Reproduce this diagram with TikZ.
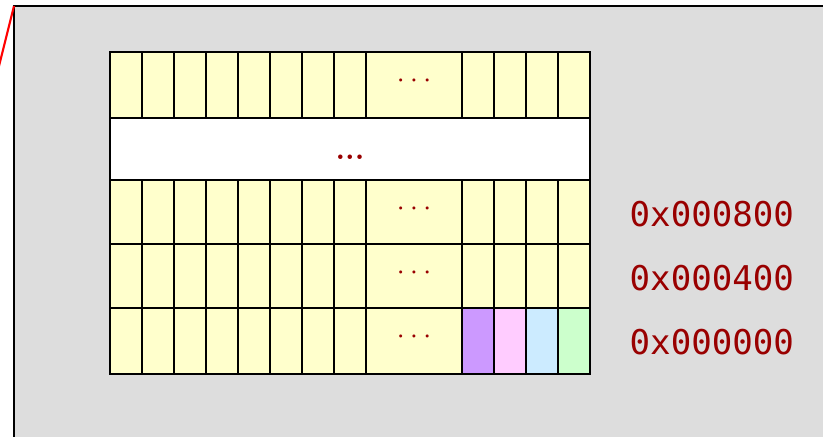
\documentclass[tikz,border=0pt]{standalone}
\usepackage{fontspec}
\usepackage{xcolor}
\usepackage{tikz}
\newfontfamily\addrfont{DejaVu Sans Mono}
\definecolor{MemGray}{HTML}{DDDDDD}
\definecolor{MemYellow}{HTML}{FFFFCC}
\definecolor{MemPurple}{HTML}{CC99FF}
\definecolor{MemPink}{HTML}{FFCCFF}
\definecolor{MemBlue}{HTML}{CCEBFF}
\definecolor{MemGreen}{HTML}{CCFFCC}
\definecolor{MemRed}{HTML}{990000}

\begin{document}
\begin{tikzpicture}[x=0.01cm, y=-0.01cm,
    cell/.style={draw=black, line width=0.75pt, fill=MemYellow},
    addr/.style={text=MemRed, inner sep=0pt, anchor=west, font=\addrfont\fontsize{9.7}{12}\selectfont},
    gap/.style={text=MemRed, inner sep=0pt, font=\fontsize{8.3}{10}\selectfont}]
  \useasboundingbox (0,0) rectangle (823,437);
  \clip (0,0) rectangle (823,437);
  \draw[fill=MemGray, line width=0.65pt] (14,6) rectangle (850,470);
  \draw[red, line width=0.6pt] (14,6) -- (-4,78);
  % rows of memory cells
  \foreach \top/\bot in {52/118, 180/244, 244/308, 308/374} {
    \foreach \l in {110,142,...,334}
      \draw[cell] (\l,\top) rectangle (\l+32,\bot);
    \draw[cell] (366,\top) rectangle (462,\bot);
    \foreach \l in {462,494,...,558}
      \draw[cell] (\l,\top) rectangle (\l+32,\bot);
  }
  % first bytes of block 0
  \foreach \l/\c in {462/MemPurple, 494/MemPink, 526/MemBlue, 558/MemGreen}
    \draw[cell, fill=\c] (\l,308) rectangle (\l+32,374);
  % skipped rows
  \draw[cell, fill=white] (110,118) rectangle (590,180);
  \node[text=MemRed, inner sep=0pt, anchor=base, font=\bfseries\fontsize{8}{9}\selectfont] (skip) at (350,160) {...};
  \node[gap] (gapA) at (414,81) {$\cdots$};
  \node[gap] (gapB) at (414,209) {$\cdots$};
  \node[gap] (gapC) at (414,273) {$\cdots$};
  \node[gap] (gapD) at (414,337) {$\cdots$};
  % addresses
  \node[addr] (addrC) at (629,214) {0x000800};
  \node[addr] (addrB) at (629,278) {0x000400};
  \node[addr] (addrA) at (629,342) {0x000000};
\end{tikzpicture}
\end{document}
